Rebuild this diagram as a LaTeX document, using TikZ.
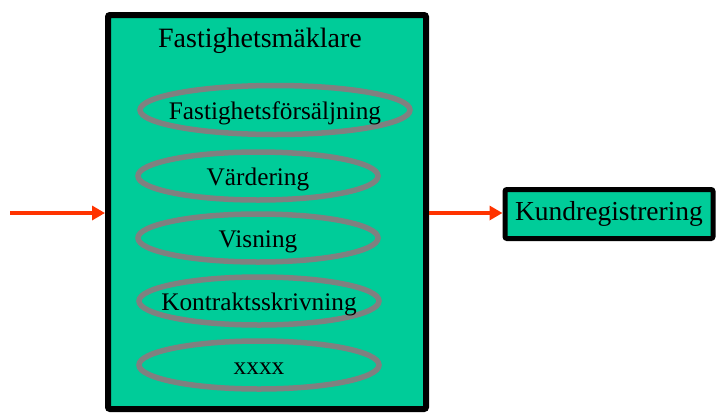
\documentclass[tikz,border=0pt]{standalone}
\usepackage{fontspec}
\setmainfont{Liberation Serif}
\usetikzlibrary{shapes.geometric,arrows.meta}
\definecolor{boxgreen}{RGB}{0,204,153}
\definecolor{ovalgray}{RGB}{128,128,128}
\definecolor{flowred}{RGB}{255,51,0}
% oval labels: zero-size box, baseline set below the oval's centre
\newcommand{\ovaltext}[1]{\raisebox{-9pt}[0pt][0pt]{\makebox[0pt]{#1}}}
\tikzset{
  processbox/.style={draw=black, line width=6pt, fill=boxgreen, rounded corners=2pt,
    rectangle, inner sep=0pt},
  taskoval/.style={draw=ovalgray, line width=5.5pt, ellipse, inner sep=0pt,
    minimum width=240pt, minimum height=48pt, font=\fontsize{25.3}{28}\selectfont},
  flow/.style={draw=flowred, line width=4pt, -{Triangle[length=13pt,width=14pt]}},
}
\begin{document}
\begin{tikzpicture}[x=1pt,y=-1pt]
  \useasboundingbox (0,0) rectangle (716,413);
  % main process box and its title
  \node[processbox, minimum width=318pt, minimum height=394pt] (makl) at (267,212) {};
  \node[font=\fontsize{28}{32}\selectfont] (title) at (260,41) {Fastighetsmäklare};
  % sub-tasks
  \node[taskoval, minimum width=270pt, minimum height=49pt] (t1) at (275,110) {\ovaltext{Fastighetsförsäljning}};
  \node[taskoval] (t2) at (258,176) {\ovaltext{Värdering}};
  \node[taskoval] (t3) at (258,238) {\ovaltext{Visning}};
  \node[taskoval] (t4) at (259,301) {\ovaltext{Kontraktsskrivning}};
  \node[taskoval] (t5) at (259,365) {\ovaltext{xxxx}};
  % output system
  \node[processbox, line width=5pt, minimum width=208pt, minimum height=49pt,
        font=\fontsize{27.5}{32}\selectfont] (kund) at (609,214) {Kundregistrering};
  % flows
  \coordinate (in) at (10,213);
  \draw[flow] (in) -- (makl.west |- in);
  \draw[flow] (makl.east |- in) -- (kund.west |- in);
\end{tikzpicture}
\end{document}
